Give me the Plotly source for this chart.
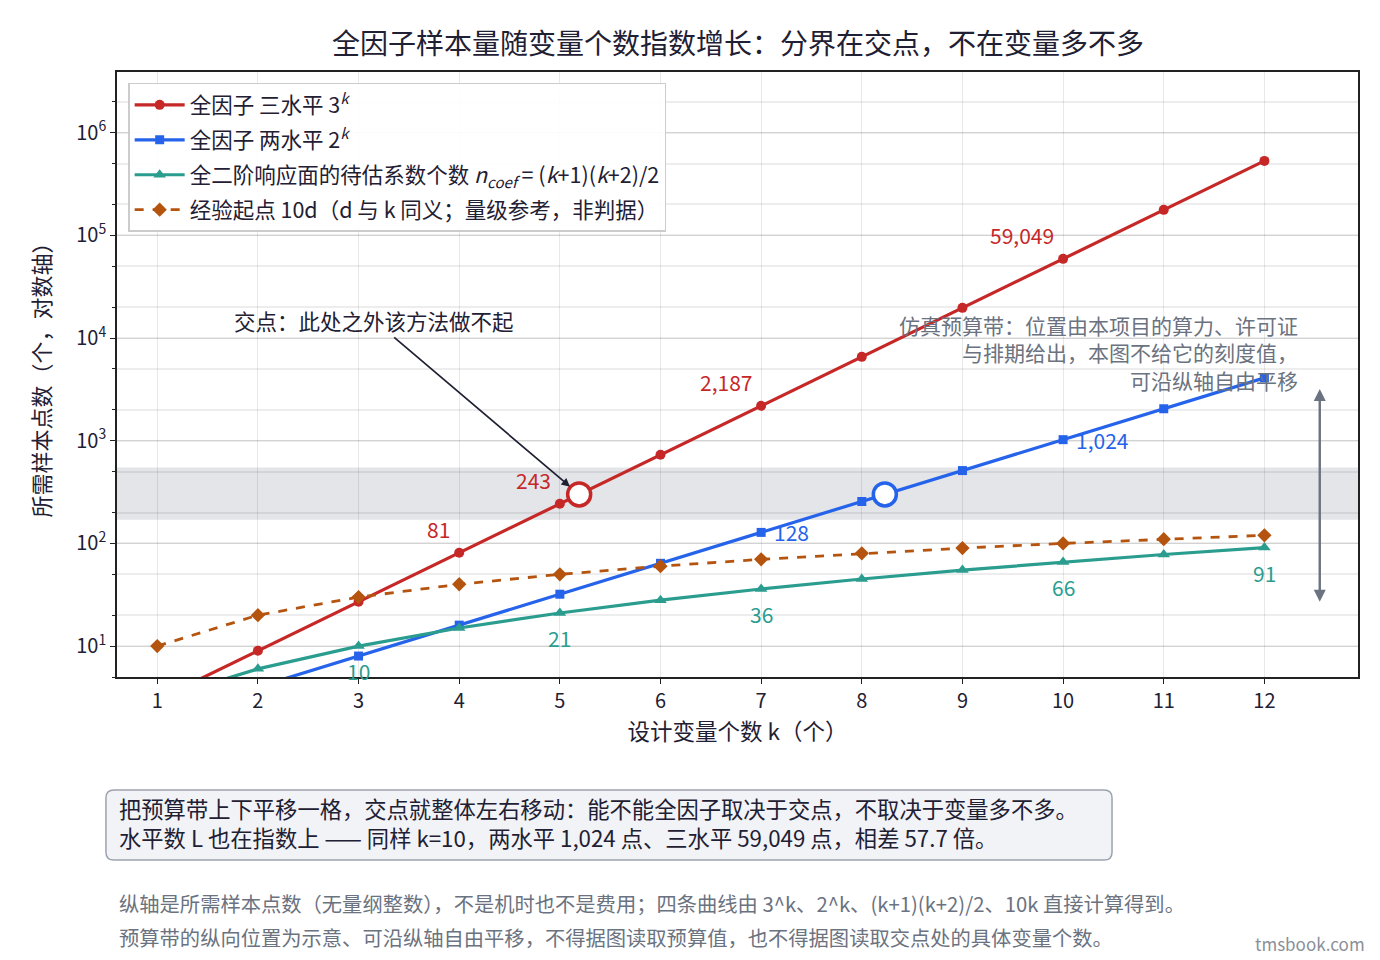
import math
import plotly.graph_objects as go

# 变量个数 k
k_vals = [1, 2, 3, 4, 5, 6, 7, 8, 9, 10, 11, 12]
full3 = [3, 9, 27, 81, 243, 729, 2187, 6561, 19683, 59049, 177147, 531441]
full2 = [2, 4, 8, 16, 32, 64, 128, 256, 512, 1024, 2048, 4096]
n_coef = [3, 6, 10, 15, 21, 28, 36, 45, 55, 66, 78, 91]
ten_d = [10, 20, 30, 40, 50, 60, 70, 80, 90, 100, 110, 120]

# 预算带（示意）
budget_low = 170
budget_high = 550
budget_line = 300

# 标注的点
label_k3 = [4, 5, 7, 10]
label_k2 = [7, 10]
label_kc = [3, 5, 7, 10, 12]

y_tickvals = [10, 100, 1000, 10000, 100000, 1000000]
y_ticktext = ["10<sup>1</sup>", "10<sup>2</sup>", "10<sup>3</sup>",
              "10<sup>4</sup>", "10<sup>5</sup>", "10<sup>6</sup>"]

caption_lines = [
    "把预算带上下平移一格，交点就整体左右移动：能不能全因子取决于交点，不取决于变量多不多。",
    "水平数 L 也在指数上 —— 同样 k=10，两水平 1,024 点、三水平 59,049 点，相差 57.7 倍。",
]
note_lines = [
    "纵轴是所需样本点数（无量纲整数），不是机时也不是费用；四条曲线由 3^k、2^k、(k+1)(k+2)/2、10k 直接计算得到。",
    "预算带的纵向位置为示意、可沿纵轴自由平移，不得据图读取预算值，也不得据图读取交点处的具体变量个数。",
]

RED = "#c62828"
BLUE = "#2563eb"
TEAL = "#2a9d8f"
ORANGE = "#b5540f"
GRAY = "#6b7280"
FONT = "Noto Sans CJK SC"

fig = go.Figure()

fig.add_trace(go.Scatter(x=k_vals, y=full3, mode="lines+markers", name="全因子 三水平 3<sup><i>k</i></sup>",
                         legendgroup="a",
                         line=dict(color=RED, width=3.2), marker=dict(symbol="circle", size=10, color=RED)))
fig.add_trace(go.Scatter(x=k_vals, y=full2, mode="lines+markers", name="全因子 两水平 2<sup><i>k</i></sup>",
                         legendgroup="b",
                         line=dict(color=BLUE, width=3.2), marker=dict(symbol="square", size=9, color=BLUE)))
fig.add_trace(go.Scatter(x=k_vals, y=n_coef, mode="lines+markers",
                         name="全二阶响应面的待估系数个数 <i>n</i><sub><i>coef</i></sub> = (<i>k</i>+1)(<i>k</i>+2)/2",
                         legendgroup="c",
                         line=dict(color=TEAL, width=3.2), marker=dict(symbol="triangle-up", size=11, color=TEAL)))
fig.add_trace(go.Scatter(x=k_vals, y=ten_d, mode="lines+markers",
                         name="经验起点 10d（d 与 k 同义；量级参考，非判据）",
                         legendgroup="d",
                         line=dict(color=ORANGE, width=2.8, dash="dash"),
                         marker=dict(symbol="diamond", size=11, color=ORANGE)))

# 交点：预算线与两条全因子曲线
k_cross3 = math.log(budget_line) / math.log(3)
k_cross2 = math.log(budget_line) / math.log(2)
fig.add_trace(go.Scatter(x=[k_cross3], y=[budget_line], mode="markers", showlegend=False,
                         marker=dict(size=23, color="white", line=dict(color=RED, width=3.5))))
fig.add_trace(go.Scatter(x=[k_cross2], y=[budget_line], mode="markers", showlegend=False,
                         marker=dict(size=23, color="white", line=dict(color=BLUE, width=3.5))))

# 预算带
fig.add_shape(type="rect", xref="paper", x0=0, x1=1, yref="y", y0=budget_low, y1=budget_high,
              fillcolor="rgba(156,163,175,0.28)", line_width=0, layer="below")

# 说明框（圆角）
bx0, bx1, by0, by1, rx, ry = -0.0089, 0.8018, -0.3025, -0.1868, 0.0065, 0.013
box_path = (f"M {bx0 + rx},{by1} L {bx1 - rx},{by1} Q {bx1},{by1} {bx1},{by1 - ry} "
            f"L {bx1},{by0 + ry} Q {bx1},{by0} {bx1 - rx},{by0} L {bx0 + rx},{by0} "
            f"Q {bx0},{by0} {bx0},{by0 + ry} L {bx0},{by1 - ry} Q {bx0},{by1} {bx0 + rx},{by1} Z")
fig.add_shape(type="path", xref="paper", yref="paper", path=box_path,
              fillcolor="#f1f3f6", line=dict(color="#9ca3af", width=1.5))

ann = []
for k in label_k3:
    v = full3[k - 1]
    ann.append(dict(x=k, y=math.log10(v), text=f"{v:,}", showarrow=False, xanchor="right",
                    xshift=-7, yshift=24, font=dict(color=RED, size=21)))
for k in label_k2:
    v = full2[k - 1]
    ann.append(dict(x=k, y=math.log10(v), text=f"{v:,}", showarrow=False, xanchor="left",
                    xshift=11, yshift=0, font=dict(color=BLUE, size=21)))
for k in label_kc:
    v = n_coef[k - 1]
    ann.append(dict(x=k, y=math.log10(v), text=f"{v:,}", showarrow=False, xanchor="center",
                    yshift=-25, font=dict(color=TEAL, size=21)))

ann.append(dict(x=k_cross3, y=math.log10(budget_line), ax=-205, ay=-174, standoff=12,
                text="交点：此处之外该方法做不起", showarrow=True, arrowhead=2, arrowsize=1,
                arrowwidth=1.7, arrowcolor="#1f2033", font=dict(size=21.5, color="#1f2033")))
ann.append(dict(x=12.35, y=math.log10(7300), xanchor="right", align="right", showarrow=False,
                text="仿真预算带：位置由本项目的算力、许可证<br>与排期给出，本图不给它的刻度值，<br>可沿纵轴自由平移",
                font=dict(size=21, color=GRAY)))
ann.append(dict(x=12.55, y=math.log10(27), ax=12.55, ay=math.log10(3300), axref="x", ayref="y",
                text="", showarrow=True, arrowhead=2, startarrowhead=2, arrowside="end+start",
                arrowwidth=2.4, arrowcolor=GRAY))

for line, yy in zip(caption_lines, [-0.2165, -0.2645]):
    ann.append(dict(xref="paper", yref="paper", x=0.0005, y=yy, xanchor="left", yanchor="middle",
                    align="left", showarrow=False, text=line, borderpad=0,
                    font=dict(size=22.3, color="#1f2033")))
for line, yy in zip(note_lines, [-0.374, -0.43]):
    ann.append(dict(xref="paper", yref="paper", x=0.0, y=yy, xanchor="left", yanchor="middle",
                    align="left", showarrow=False, text=line, font=dict(size=20.3, color=GRAY)))
ann.append(dict(xref="paper", yref="paper", x=1.007, y=-0.44, xanchor="right", yanchor="middle",
                showarrow=False, text="tmsbook.com", font=dict(size=17, color="#8a8f98")))

fig.update_layout(
    width=1380, height=960,
    margin=dict(l=109, r=30, t=64, b=291),
    paper_bgcolor="white", plot_bgcolor="white",
    font=dict(family=FONT, size=20, color="#1f2033"),
    title=dict(text="全因子样本量随变量个数指数增长：分界在交点，不在变量多不多",
               x=0.529, xanchor="center", y=0.962, yanchor="middle",
               font=dict(size=28, color="#1f2033")),
    legend=dict(x=0.009, y=0.982, xanchor="left", yanchor="top", bgcolor="rgba(255,255,255,0.9)",
                bordercolor="#cccccc", borderwidth=1.5, font=dict(size=21.5), tracegroupgap=4,
                itemwidth=50),
    annotations=ann,
    showlegend=True,
)

fig.update_xaxes(range=[0.6, 12.93], tickvals=k_vals, ticks="outside", ticklen=5, tickwidth=1.2,
                 tickcolor="#222", tickfont=dict(size=20),
                 showgrid=True, gridcolor="rgba(0,0,0,0.09)", gridwidth=1,
                 showline=True, linecolor="#222", linewidth=1.6, mirror=True, zeroline=False,
                 title=dict(text="设计变量个数 k（个）", font=dict(size=22.5), standoff=6))
fig.update_yaxes(type="log", range=[math.log10(5), math.log10(3.9e6)],
                 tickvals=y_tickvals, ticktext=y_ticktext, ticks="outside", ticklen=5, tickwidth=1.2,
                 tickcolor="#222", tickfont=dict(size=20),
                 showgrid=True, gridcolor="rgba(0,0,0,0.11)", gridwidth=1,
                 minor=dict(ticks="outside", ticklen=3, tickcolor="#222", showgrid=True,
                            gridcolor="rgba(0,0,0,0.07)", gridwidth=1.8),
                 showline=True, linecolor="#222", linewidth=1.6, mirror=True, zeroline=False,
                 title=dict(text="所需样本点数（个，对数轴）", font=dict(size=22), standoff=20))

fig.write_html("out.html")
